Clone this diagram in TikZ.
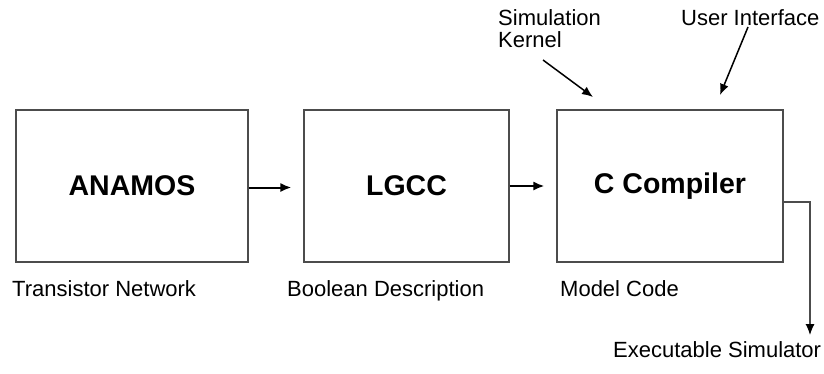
\documentclass[tikz,border=0pt]{standalone}
\usepackage{fontspec}
\setmainfont{Liberation Sans}
\usetikzlibrary{arrows.meta}

\tikzset{
  stage/.style={draw=black!70, line width=1.1pt, minimum height=152pt, inner sep=0pt,
                font=\fontsize{28.5}{32}\selectfont\bfseries},
  caption/.style={anchor=base west, inner sep=0pt, font=\fontsize{22}{22}\selectfont},
  flow/.style={line width=2pt, -{Latex[length=11pt,width=9pt]}},
  feed/.style={line width=1.5pt, -{Latex[length=11pt,width=9pt]}},
  outflow/.style={draw=black!70, line width=1.1pt, -{Latex[length=11pt,width=9pt,fill=black,color=black]}},
}

\begin{document}
\begin{tikzpicture}[x=1pt, y=-1pt]
  \useasboundingbox (0,0) rectangle (824,373);

  % processing stages
  \node[stage, minimum width=232pt] (anamos) at (132,186) {ANAMOS};
  \node[stage, minimum width=205pt] (lgcc)   at (406.5,186) {LGCC};
  \node[stage, minimum width=226pt] (cc)     at (670,186) {C Compiler};

  % captions under the stages
  \node[caption] (tn) at (12,296)  {Transistor Network};
  \node[caption] (bd) at (287,296) {Boolean Description};
  \node[caption] (mc) at (560,296) {Model Code};

  % inputs to the compiler (the two-line caption is placed by its last baseline)
  \node[caption, align=left] (sk) at (498,47) {Simulation\\Kernel};
  \node[caption] (ui) at (681,25) {User Interface};
  \coordinate (skfrom) at (543,60);
  \coordinate (skto)   at (593,97);
  \coordinate (uifrom) at (748,27);
  \coordinate (uito)   at (720,95);

  % result
  \coordinate (exe) at (810,335);
  \node[caption] (es) at (613,357) {Executable Simulator};

  % connectors
  \draw[flow, shorten >=12pt] ([yshift=-1.5pt]anamos.east) -- ([yshift=-1.5pt]lgcc.west);
  \draw[flow, shorten >=12pt] (lgcc.east) -- (cc.west);
  \draw[feed] (skfrom) -- (skto);
  \draw[feed] (uifrom) -- (uito);
  \draw[outflow] ([yshift=-16pt]cc.east) -| (exe);
\end{tikzpicture}
\end{document}
